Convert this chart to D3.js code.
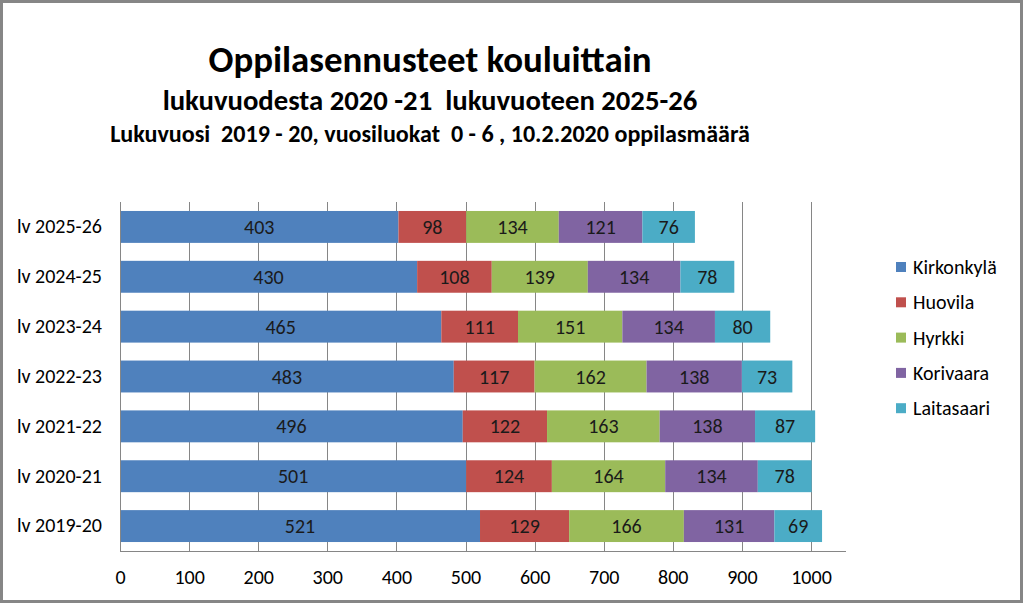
<!DOCTYPE html>
<html><head><meta charset="utf-8">
<script src="https://cdn.jsdelivr.net/npm/d3@7"></script>
<style>body{margin:0;background:#fff}svg{display:block}text{font-family:Carlito,Lato,"Open Sans",sans-serif}</style>
</head><body><svg id="c" width="1024" height="604"></svg>
<script>
const categories = ["lv 2025-26","lv 2024-25","lv 2023-24","lv 2022-23","lv 2021-22","lv 2020-21","lv 2019-20"];
const seriesNames = ["Kirkonkylä","Huovila","Hyrkki","Korivaara","Laitasaari"];
const kirkonkyla = [403,430,465,483,496,501,521];
const huovila = [98,108,111,117,122,124,129];
const hyrkki = [134,139,151,162,163,164,166];
const korivaara = [121,134,134,138,138,134,131];
const laitasaari = [76,78,80,73,87,78,69];
const xTicks = [0,100,200,300,400,500,600,700,800,900,1000];
const titles = ["Oppilasennusteet kouluittain","lukuvuodesta 2020 -21  lukuvuoteen 2025-26","Lukuvuosi  2019 - 20, vuosiluokat  0 - 6 , 10.2.2020 oppilasmäärä"];
const colors = ["#4F81BD","#C0504D","#9BBB59","#8064A2","#4BACC6"];

const FF = "Carlito,Lato,'Open Sans',sans-serif";
const svg = d3.select("#c");
svg.append("rect").attr("x",1.5).attr("y",1.5).attr("width",1020).attr("height",600)
  .attr("fill","#fff").attr("stroke","#868686").attr("stroke-width",3);

// titles fitted to widths
const tspec = [{y:72,w:443,fs:30},{y:110,w:535,fs:23},{y:142,w:640,fs:20}];
titles.forEach((t,i)=>{
  const el = svg.append("text").attr("x",430).attr("y",tspec[i].y).attr("text-anchor","middle")
    .attr("font-weight","bold").attr("font-size",tspec[i].fs).attr("fill","#000")
    .style("white-space","pre").attr("xml:space","preserve").text(t);
  const w = el.node().getComputedTextLength();
  el.attr("font-size", tspec[i].fs*tspec[i].w/w);
});

const x = d3.scaleLinear().domain([0,1000]).range([120,811]);
const y = d3.scaleBand().domain(categories).range([202,551]).paddingInner(0.36).paddingOuter(0.18);

// gridlines
svg.append("g").selectAll("line").data(xTicks.slice(1)).join("line")
  .attr("x1",d=>Math.round(x(d))+0.5).attr("x2",d=>Math.round(x(d))+0.5).attr("y1",202).attr("y2",551)
  .attr("stroke","#868686").attr("stroke-width",1);

const data = [kirkonkyla,huovila,hyrkki,korivaara,laitasaari];
const table = categories.map((c,i)=>{const o={cat:c}; seriesNames.forEach((s,j)=>o[s]=data[j][i]); return o;});
const stack = d3.stack().keys(seriesNames)(table);

const g = svg.append("g");
stack.forEach((layer,j)=>{
  g.selectAll(null).data(layer).join("rect")
    .attr("x",d=>x(d[0])).attr("width",d=>x(d[1])-x(d[0]))
    .attr("y",d=>y(d.data.cat)).attr("height",y.bandwidth())
    .attr("fill",colors[j]);
  g.selectAll(null).data(layer).join("text")
    .attr("x",d=>(x(d[0])+x(d[1]))/2).attr("y",d=>y(d.data.cat)+y.bandwidth()/2)
    .attr("dy","0.35em").attr("text-anchor","middle").attr("font-size",20).attr("fill","#1a1a1a")
    .text(d=>d[1]-d[0]);
});

// axes
const xa = svg.append("g").attr("transform","translate(0,551)")
  .call(d3.axisBottom(x).tickValues(xTicks).tickFormat(d3.format("d")).tickSize(0).tickPadding(19));
xa.select(".domain").attr("stroke","#868686").attr("d","M120,0.5H846");
xa.selectAll("text").attr("font-size",20).attr("fill","#000").attr("font-family",FF);

const ya = svg.append("g").attr("transform","translate(120,0)")
  .call(d3.axisLeft(y).tickSize(0).tickPadding(18));
ya.select(".domain").attr("stroke","#868686").attr("d","M0.5,202V551");
ya.selectAll("text").attr("font-size",20).attr("fill","#000").attr("font-family",FF);

// legend
const lg = svg.append("g");
seriesNames.forEach((s,i)=>{
  const yy = 267 + i*35.3;
  lg.append("rect").attr("x",896).attr("y",yy-5).attr("width",10).attr("height",10).attr("fill",colors[i]);
  lg.append("text").attr("x",913).attr("y",yy).attr("dy","0.35em").attr("font-size",20).attr("fill","#000").text(s);
});
</script></body></html>
